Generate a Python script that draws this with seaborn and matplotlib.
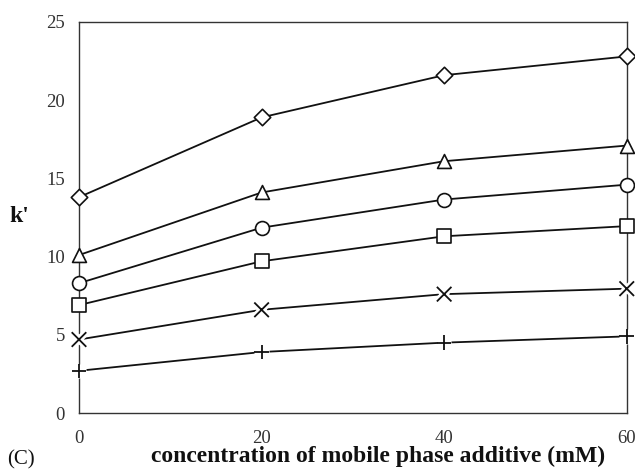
import matplotlib
matplotlib.use("Agg")
import matplotlib.pyplot as plt
import matplotlib.patheffects as pe
import seaborn as sns
import pandas as pd

x_vals = [0, 20, 40, 60]
diamond = [13.8, 18.9, 21.6, 22.8]
triangle = [10.1, 14.1, 16.1, 17.1]
circle = [8.3, 11.85, 13.65, 14.6]
square = [6.9, 9.7, 11.3, 11.95]
cross = [4.7, 6.6, 7.6, 7.95]
plus = [2.7, 3.9, 4.5, 4.9]

series = {"D": diamond, "^": triangle, "o": circle, "s": square, "x": cross, "+": plus}

rows = []
for m, vals in series.items():
    for xv, yv in zip(x_vals, vals):
        rows.append({"x": xv, "y": yv, "s": m})
df = pd.DataFrame(rows)

sns.set_style("white")
plt.rcParams["font.family"] = ["Liberation Serif", "DejaVu Serif"]

fig = plt.figure(figsize=(6.35, 4.73), dpi=100)
ax = fig.add_axes([0.1244, 0.1268, 0.8626, 0.8267])

for m in series:
    sub = df[df["s"] == m]
    sns.lineplot(data=sub, x="x", y="y", ax=ax, color="#111111", lw=1.3, zorder=2)
for m in series:
    sub = df[df["s"] == m]
    if m in ("x", "+"):
        ax.scatter(sub["x"], sub["y"], marker=m, s=110, color="#111111", linewidths=1.3, zorder=4, clip_on=False,
                   path_effects=[pe.Stroke(linewidth=5, foreground="white"), pe.Normal()])
    else:
        size = 70 if m == "D" else 100
        ax.scatter(sub["x"], sub["y"], marker=m, s=size, facecolor="white", edgecolor="#111111", linewidths=1.2,
                   zorder=4, clip_on=False)

ax.set_xlim(0, 60)
ax.set_ylim(0, 25)
ax.set_xticks([0, 20, 40, 60])
ax.set_yticks([0, 5, 10, 15, 20, 25])
for sp in ax.spines.values():
    sp.set_color("#333333")
    sp.set_linewidth(1.0)
ax.tick_params(direction="in", length=7, width=1, color="#333333", labelcolor="#333333", labelsize=13.5)
ax.tick_params(axis="x", pad=12)
ax.tick_params(axis="y", pad=10)
ax.set_xlabel("")
ax.set_ylabel("")
fig.text(0.596, 0.012, "concentration of mobile phase additive (mM)", ha="center", va="bottom",
         fontsize=17, fontweight="bold", color="#111111")
fig.text(0.03, 0.543, "k'", ha="center", va="center", fontsize=17, fontweight="bold", color="#111111")
fig.text(0.012, 0.008, "(C)", ha="left", va="bottom", fontsize=15, color="#111111")

fig.savefig("out.png", dpi=100)
